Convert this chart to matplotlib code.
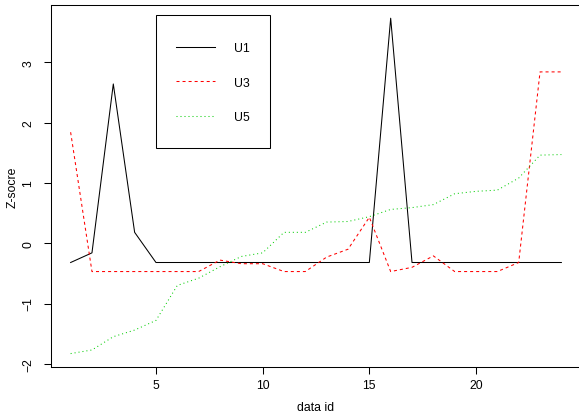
import matplotlib
matplotlib.use("Agg")
import matplotlib.pyplot as plt
from matplotlib.patches import Rectangle

plt.rcParams['font.family'] = ['Liberation Sans', 'DejaVu Sans']

data_id = list(range(1, 25))
U1 = [-0.32, -0.16, 2.64, 0.18, -0.32, -0.32, -0.32, -0.32, -0.32, -0.32,
      -0.32, -0.32, -0.32, -0.32, -0.32, 3.73, -0.32, -0.32, -0.32, -0.32,
      -0.32, -0.32, -0.32, -0.32]
U3 = [1.84, -0.47, -0.47, -0.47, -0.47, -0.47, -0.47, -0.28, -0.34, -0.34,
      -0.47, -0.47, -0.23, -0.10, 0.43, -0.47, -0.40, -0.21, -0.47, -0.47,
      -0.47, -0.32, 2.84, 2.84]
U5 = [-1.83, -1.77, -1.55, -1.44, -1.28, -0.70, -0.58, -0.39, -0.22, -0.16,
      0.18, 0.18, 0.35, 0.36, 0.44, 0.56, 0.59, 0.64, 0.82, 0.86,
      0.88, 1.08, 1.46, 1.47]
series_names = ["U1", "U3", "U5"]
x_ticks = [5, 10, 15, 20]
y_ticks = [-2, -1, 0, 1, 2, 3]

W, H = 579, 414
fig = plt.figure(figsize=(W / 100, H / 100), dpi=100)
ax = fig.add_axes([51 / W, 46 / H, 530 / W, 362.2 / H])

lw = 0.75
l1, = ax.plot(data_id, U1, color='black', lw=lw, label=series_names[0])
l3, = ax.plot(data_id, U3, color='red', lw=lw, dashes=(2.9, 2.9), label=series_names[1])
l5, = ax.plot(data_id, U5, color='#00CD00', lw=lw, dashes=(0.96, 2.88), label=series_names[2])

ax.margins(x=0.04, y=0.04)
ax.set_xticks(x_ticks)
ax.set_yticks(y_ticks)
ax.set_yticklabels([str(v).replace('-', '\u2212') for v in y_ticks])
for s in ax.spines.values():
    s.set_linewidth(lw)
    s.set_color('black')
ax.tick_params(axis='both', direction='out', length=5, width=lw, labelsize=8.8, color='black')
ax.tick_params(axis='x', pad=4)
ax.tick_params(axis='y', pad=7, labelrotation=90)
for t in ax.get_yticklabels():
    t.set_va('center')

ax.set_xlabel("data id", fontsize=8.8, labelpad=7)
ax.set_ylabel("Z-socre", fontsize=8.8, labelpad=3)

leg = ax.legend(handles=[l1, l3, l5], loc='upper left', frameon=False,
                bbox_to_anchor=(156 / W, 1 - 23.5 / H), bbox_transform=fig.transFigure,
                fontsize=8.8, handlelength=3.2, handletextpad=1.55,
                labelspacing=1.85, borderpad=1.6, borderaxespad=0)

fig.patches.append(Rectangle((156 / W, 1 - 149.3 / H), 114 / W, 133.8 / H,
                             transform=fig.transFigure, fill=False,
                             edgecolor='black', lw=lw))

fig.savefig("out.png", dpi=100)
